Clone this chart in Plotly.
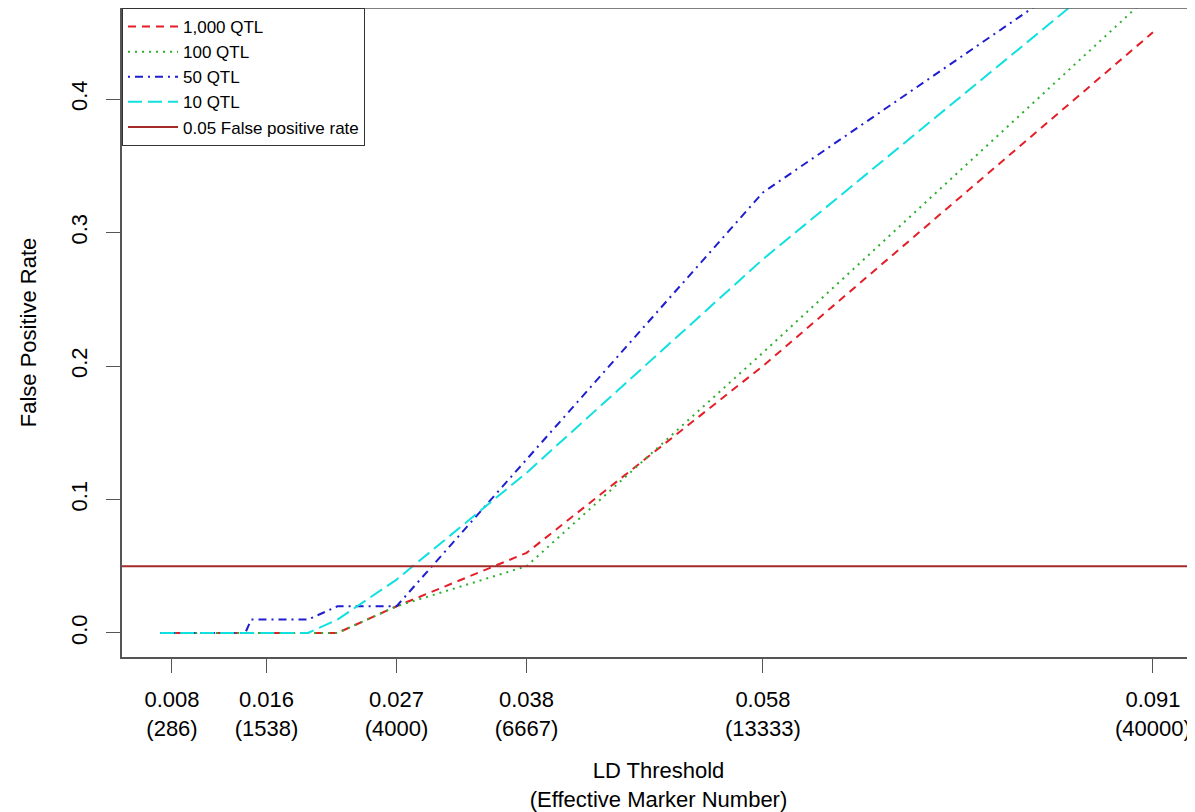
import plotly.graph_objects as go

# LD threshold (x) shared by all series
ld_threshold = [0.007, 0.0142, 0.0147, 0.0195, 0.022, 0.027, 0.038, 0.058, 0.091]

fpr_1000_qtl = [0, 0, 0, 0, 0, 0.02, 0.06, 0.20, 0.45]
fpr_100_qtl = [0, 0, 0, 0, 0, 0.02, 0.05, 0.21, 0.48]
fpr_50_qtl = [0, 0, 0.01, 0.01, 0.02, 0.02, 0.13, 0.33, 0.53]
fpr_10_qtl = [0, 0, 0, 0, 0.01, 0.04, 0.12, 0.28, 0.52]

fp_threshold = 0.05

tick_values = [0.008, 0.016, 0.027, 0.038, 0.058, 0.091]
tick_markers = ["286", "1538", "4000", "6667", "13333", "40000"]
tick_labels = [f"{v:.3f}<br>({m})" for v, m in zip(tick_values, tick_markers)]

y_ticks = [0.0, 0.1, 0.2, 0.3, 0.4]
y_labels = ["0.0", "0.1", "0.2", "0.3", "0.4"]

FONT = "Liberation Sans, Arial, sans-serif"
AXIS = "#555555"

fig = go.Figure()

series = [
    ("1,000 QTL", fpr_1000_qtl, "#E41E28", "8px,6px"),
    ("100 QTL", fpr_100_qtl, "#2EB02E", "2px,5px"),
    ("50 QTL", fpr_50_qtl, "#1E1ED0", "2px,5px,8px,5px"),
    ("10 QTL", fpr_10_qtl, "#10E0E0", "14px,6px"),
]
for name, ys, color, dash in series:
    fig.add_trace(go.Scatter(
        x=ld_threshold, y=ys, mode="lines", name=name,
        line=dict(color=color, width=2, dash=dash),
        cliponaxis=True,
    ))

x_range = [0.00377, 0.09456]
fig.add_trace(go.Scatter(
    x=x_range, y=[fp_threshold, fp_threshold], mode="lines",
    name="0.05 False positive rate",
    line=dict(color="#A52A2A", width=2),
))

# page body adds an 8px offset, so the figure is sized to fill the rest
fig.update_layout(
    width=1187, height=804,
    margin=dict(l=114, r=0, t=0, b=155),
    paper_bgcolor="white", plot_bgcolor="white",
    font=dict(family=FONT, size=22, color="black"),
    showlegend=True,
    legend=dict(
        x=0, y=1, xanchor="left", yanchor="top",
        bgcolor="white", bordercolor="#333333", borderwidth=1,
        font=dict(family=FONT, size=17, color="black"),
        tracegroupgap=0, itemwidth=50,
    ),
    xaxis=dict(
        range=x_range, showgrid=False, zeroline=False,
        showline=True, linecolor=AXIS, linewidth=1.5,
        ticks="outside", ticklen=14, tickcolor=AXIS, tickwidth=1.2,
        tickvals=tick_values, ticktext=tick_labels,
        ticklabelstandoff=8,
        title=dict(text="LD Threshold<br>(Effective Marker Number)",
                   font=dict(family=FONT, size=22), standoff=28),
    ),
    yaxis=dict(
        range=[-0.018, 0.4682], showgrid=False, zeroline=False,
        showline=True, linecolor=AXIS, linewidth=1.5,
        ticks="outside", ticklen=14, tickcolor=AXIS, tickwidth=1.2,
        tickvals=y_ticks, ticktext=y_labels, tickangle=-90,
        ticklabelstandoff=10,
        title=dict(text="False Positive Rate",
                   font=dict(family=FONT, size=22), standoff=25),
    ),
    shapes=[dict(type="line", xref="paper", yref="paper", x0=0, x1=1, y0=1, y1=1,
                 line=dict(color=AXIS, width=1.5))],
)

fig.write_html("out.html")
